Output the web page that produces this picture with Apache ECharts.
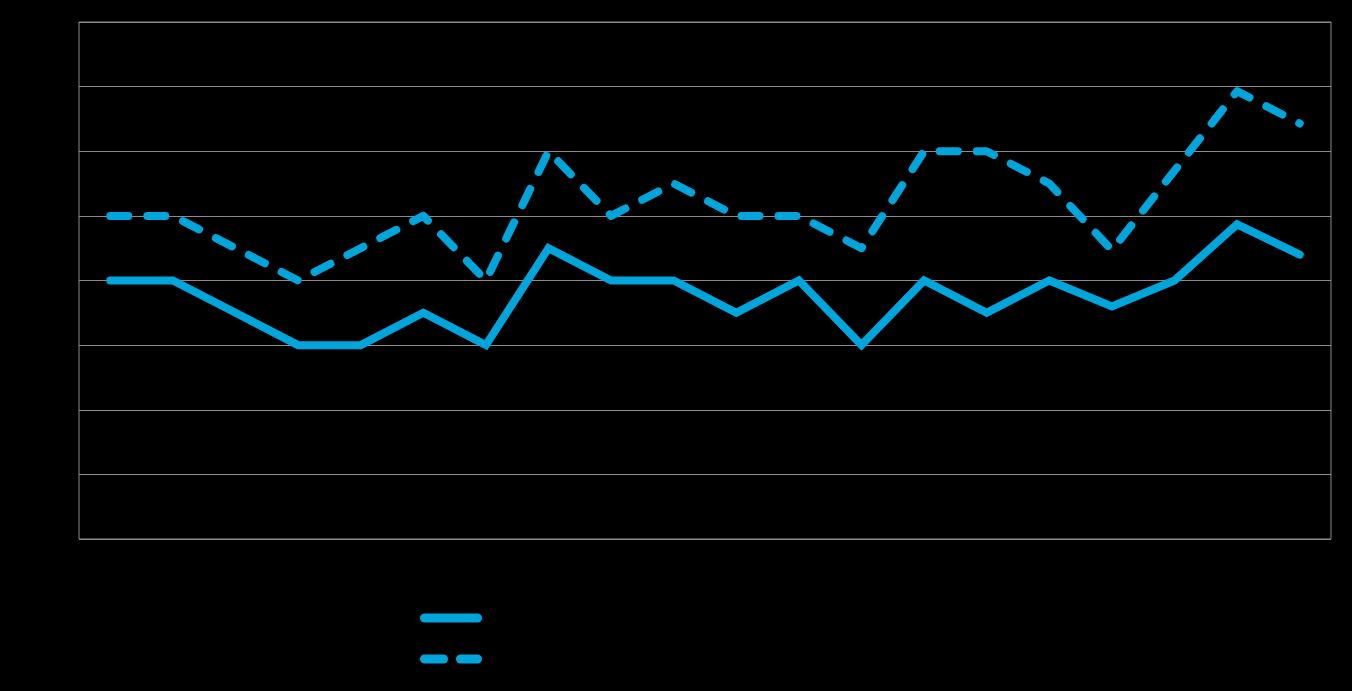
<!DOCTYPE html>
<html>
<head>
<meta charset="utf-8">
<script src="https://cdn.jsdelivr.net/npm/echarts@6/dist/echarts.min.js"></script>
<style>
html,body{margin:0;padding:0;background:#000;}
#chart{width:1352px;height:691px;}
</style>
</head>
<body>
<div id="chart"></div>
<script>
const categories = ['1','2','3','4','5','6','7','8','9','10','11','12','13','14','15','16','17','18','19','20'];
const seriesSolidName = 'Series 1';
const seriesDashedName = 'Series 2';
const solidValues = [40,40,35,30,30,35,30,45,40,40,35,40,30,40,35,40,36,40,48.7,44];
const dashedValues = [50,50,45,40,45,50,40,60,50,55,50,50,45,60,60,55,44.7,57,69.3,64.3];
const yTicks = {min:0, max:80, interval:10};

const lineColor = '#00A5DB';
const chart = echarts.init(document.getElementById('chart'));
chart.setOption({
  backgroundColor:'#000',
  animation:false,
  grid:{left:79, right:21, top:22, bottom:152, show:true, borderColor:'#8c8c8c', borderWidth:1},
  legend:{
    orient:'vertical', left:420, top:613.5, padding:0, itemWidth:53, itemHeight:9, itemGap:32,
    textStyle:{color:'#000', fontFamily:'Liberation Sans', fontSize:9, lineHeight:9},
    itemStyle:{opacity:0},
    lineStyle:{width:9, cap:'round'},
    data:[
      {name:seriesSolidName},
      {name:seriesDashedName, lineStyle:{type:[19,17], width:9, cap:'round'}}
    ]
  },
  xAxis:{type:'category', data:categories, boundaryGap:true,
    axisLine:{show:false}, axisTick:{show:false},
    axisLabel:{color:'#000'}, splitLine:{show:false}},
  yAxis:{type:'value', min:yTicks.min, max:yTicks.max, interval:yTicks.interval,
    axisLine:{show:false}, axisTick:{show:false},
    axisLabel:{color:'#000'},
    splitLine:{lineStyle:{color:'#8c8c8c', width:1}}},
  series:[
    {name:seriesSolidName, type:'line', data:solidValues, symbol:'none',
     itemStyle:{color:lineColor},
     lineStyle:{color:lineColor, width:8, cap:'round', join:'miter'}},
    {name:seriesDashedName, type:'line', data:dashedValues, symbol:'none',
     itemStyle:{color:lineColor},
     lineStyle:{color:lineColor, width:8, type:[18,19], cap:'round', join:'round'}}
  ]
});
</script>
</body>
</html>
